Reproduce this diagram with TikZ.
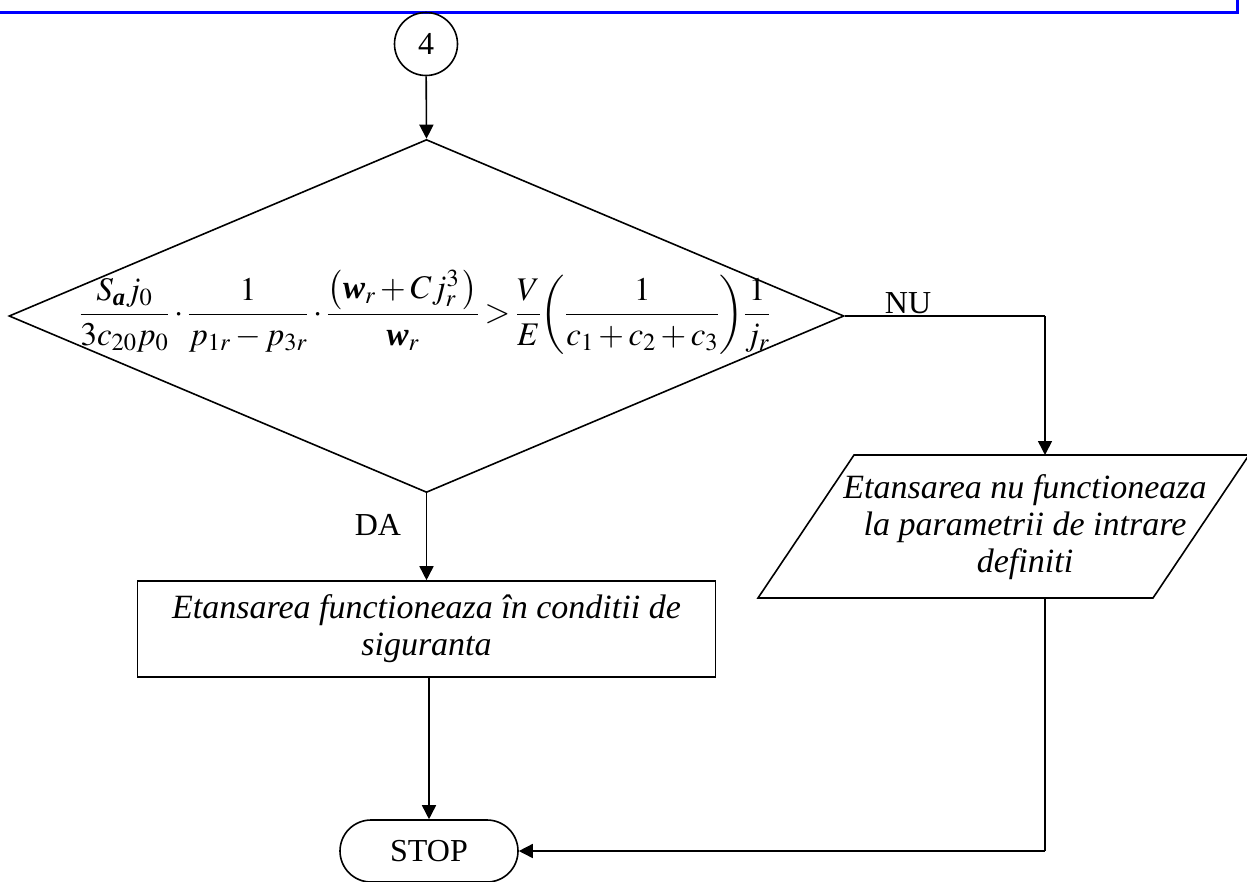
\documentclass[tikz,border=0pt]{standalone}
\usepackage{amsmath}
\usepackage{mathptmx}
\usepackage{fontspec}
\setmainfont{Liberation Serif}
\usetikzlibrary{shapes.geometric,shapes.misc,arrows.meta}
\newcommand{\bw}{\mbox{\bfseries\itshape w}}
\begin{document}
\begin{tikzpicture}[x=1pt,y=-1pt, line width=1.6pt,
  every node/.style={font=\fontsize{32}{36}\selectfont},
  arr/.style={-{Triangle[length=14pt,width=14pt]}},
  box/.style={draw, rectangle, inner sep=0pt},
  itxt/.style={font=\fontsize{34}{37}\selectfont\itshape, align=center}
]
\useasboundingbox (0,0) rectangle (1247,881);
\begin{scope}
\clip (0,0) rectangle (1247,881);
\draw[blue, line width=3pt] (-10,12) -- (1237,12) -- (1237,-10);

\node[draw, circle, minimum size=63pt, inner sep=0pt] (c4) at (426,44) {4};
\node[draw, diamond, minimum width=835pt, minimum height=353pt, inner sep=0pt] (dec) at (426.5,316) {};
\node[font=\fontsize{33}{38}\selectfont, inner sep=0pt] (formula) at (425,312) {%
 \thickmuskip=3mu \medmuskip=2.5mu \thinmuskip=2mu
 $\displaystyle
 \frac{S_{\text{\bfseries\itshape a}}j_0}{3c_{20}p_0}\cdot
 \frac{1}{p_{1r}-p_{3r}}\cdot
 \frac{\bigl(\bw_r+Cj_r^{3}\,\bigr)}{\bw_r}>
 \frac{V}{E}\!\left(\frac{1}{c_1+c_2+c_3}\right)\!\frac{1}{j_r}$};

\node[box, minimum width=578pt, minimum height=96pt, itxt] (ok) at (426.5,629)
  {Etansarea functioneaza în conditii de\\siguranta};

\node[draw, rounded rectangle, minimum width=178pt, minimum height=62pt, inner sep=0pt] (stop) at (429,851) {STOP};

\coordinate (pTL) at (854,455);
\coordinate (pTR) at (1249,455);
\coordinate (pBR) at (1153,598);
\coordinate (pBL) at (758,598);
\draw (pTL) -- (pTR) -- (pBR) -- (pBL) -- cycle;
\node[itxt] (ptext) at (1025,527) {Etansarea nu functioneaza\\la parametrii de intrare\\definiti};

\coordinate (pTop) at (1045,455);
\coordinate (pBot) at (1045,598);
\coordinate (nuCorner) at (1045,316);
\coordinate (stopCorner) at (1045,851);

\draw[arr] (c4) -- (dec.north);
\draw[arr] (dec.south) -- (ok.north);
\node (da) at (378,525) {DA};
\draw (dec.east) -- (nuCorner);
\draw[arr] (nuCorner) -- (pTop);
\node[anchor=base] (nu) at (908,313) {NU};
\draw[arr] (ok.south -| stop.north) -- (stop.north);
\draw (pBot) -- (stopCorner);
\draw[arr] (stopCorner) -- (stop.east);
\end{scope}
\end{tikzpicture}
\end{document}
